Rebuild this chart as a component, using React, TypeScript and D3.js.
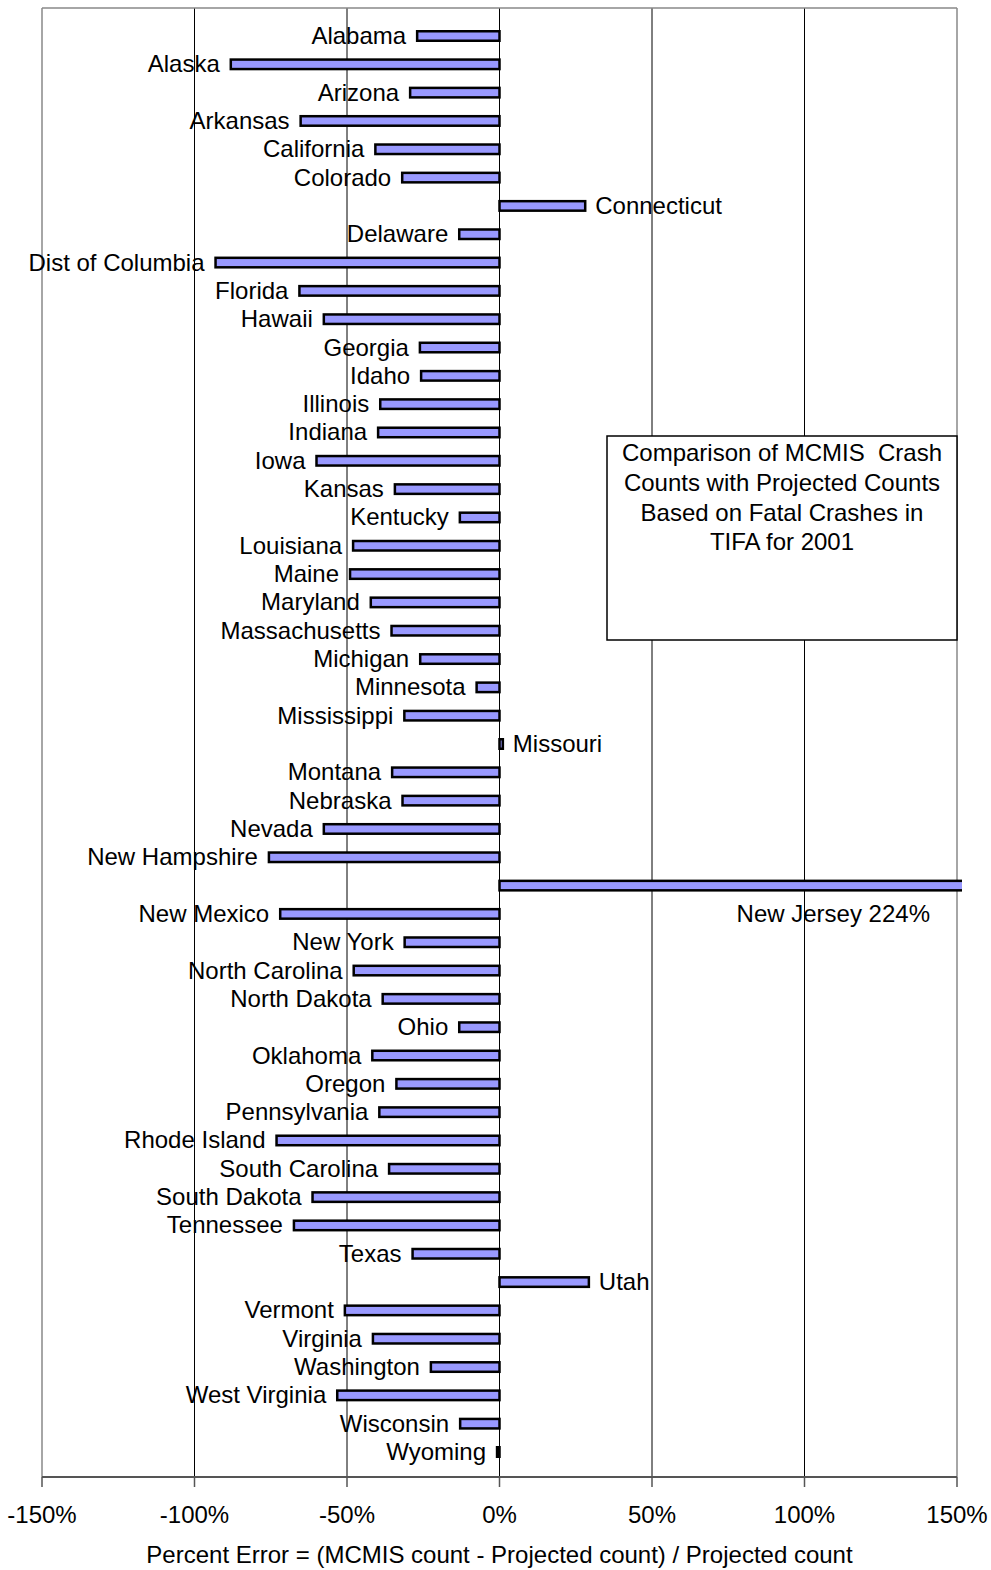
import React from "react";
import * as d3 from "d3";

const states: string[] = [
  "Alabama", "Alaska", "Arizona", "Arkansas", "California", "Colorado", "Connecticut",
  "Delaware", "Dist of Columbia", "Florida", "Hawaii", "Georgia", "Idaho", "Illinois",
  "Indiana", "Iowa", "Kansas", "Kentucky", "Louisiana", "Maine", "Maryland",
  "Massachusetts", "Michigan", "Minnesota", "Mississippi", "Missouri", "Montana",
  "Nebraska", "Nevada", "New Hampshire", "New Jersey", "New Mexico", "New York",
  "North Carolina", "North Dakota", "Ohio", "Oklahoma", "Oregon", "Pennsylvania",
  "Rhode Island", "South Carolina", "South Dakota", "Tennessee", "Texas", "Utah",
  "Vermont", "Virginia", "Washington", "West Virginia", "Wisconsin", "Wyoming",
];

const percentError: number[] = [
  -27.0, -88.1, -29.3, -65.2, -40.7, -31.9, 28.1,
  -13.2, -93.1, -65.6, -57.6, -26.1, -25.7, -39.1,
  -39.8, -60.0, -34.3, -13.0, -48.0, -49.0, -42.2,
  -35.4, -26.0, -7.5, -31.2, 1.1, -35.2,
  -31.8, -57.6, -75.6, 224, -71.9, -31.1,
  -47.8, -38.3, -13.2, -41.7, -33.8, -39.4,
  -73.1, -36.2, -61.3, -67.4, -28.5, 29.3,
  -50.7, -41.5, -22.5, -53.2, -12.9, -0.8,
];

const xTicks: number[] = [-150, -100, -50, 0, 50, 100, 150];
const gridTicks: number[] = [-100, -50, 0, 50, 100];
const titleLines: string[] = [
  "Comparison of MCMIS  Crash",
  "Counts with Projected Counts",
  "Based on Fatal Crashes in",
  "TIFA for 2001",
];
const axisTitle = "Percent Error = (MCMIS count - Projected count) / Projected count";
const outlierLabel = "New Jersey 224%";

const W = 991;
const H = 1570;
const plotLeft = 42;
const plotRight = 957;
const plotTop = 8;
const plotBottom = 1477;
const FONT = "'Liberation Sans', Arial, sans-serif";

export default function App() {
  const x = d3.scaleLinear().domain([-150, 150]).range([plotLeft, plotRight]);
  const y = d3.scalePoint<string>().domain(states).range([36, 1452]);
  const barH = 9.5;
  const step = y.step();
  const clipRight = plotRight + 5;

  return (
    <svg
      width={W}
      height={H}
      style={{ position: "absolute", left: 0, top: 0, background: "#fff" }}
      fontFamily={FONT}
    >
      <defs>
        <clipPath id="barclip">
          <rect x={0} y={0} width={clipRight} height={H} />
        </clipPath>
      </defs>
      <rect x={0} y={0} width={W} height={H} fill="#fff" />
      {gridTicks.map((t) => (
        <line
          key={"g" + t}
          x1={x(t)}
          x2={x(t)}
          y1={plotTop}
          y2={plotBottom}
          stroke="#000"
          strokeWidth={1}
        />
      ))}
      <line x1={plotLeft} x2={plotRight} y1={plotTop} y2={plotTop} stroke="#888" strokeWidth={1.5} />
      <line x1={plotLeft} x2={plotLeft} y1={plotTop} y2={plotBottom} stroke="#888" strokeWidth={1.5} />
      <line x1={plotRight} x2={plotRight} y1={plotTop} y2={plotBottom} stroke="#888" strokeWidth={1.5} />

      <g clipPath="url(#barclip)">
        {states.map((s, i) => {
          const v = percentError[i];
          const x0 = x(Math.min(0, v));
          const x1 = x(Math.max(0, v));
          return (
            <rect
              key={s}
              x={x0}
              y={(y(s) as number) - barH / 2}
              width={Math.max(x1 - x0, 0.5)}
              height={barH}
              fill="#9999FF"
              stroke="#000"
              strokeWidth={2.5}
            />
          );
        })}
      </g>

      {states.map((s, i) => {
        const v = percentError[i];
        const cy = y(s) as number;
        if (v > 150) {
          return (
            <text
              key={"l" + s}
              x={plotRight - 27}
              y={cy + step + 8}
              textAnchor="end"
              fontSize={24}
              fill="#000"
            >
              {outlierLabel}
            </text>
          );
        }
        const neg = v < 0;
        return (
          <text
            key={"l" + s}
            x={neg ? x(v) - 11 : x(v) + 10}
            y={cy + 8}
            textAnchor={neg ? "end" : "start"}
            fontSize={24}
            fill="#000"
          >
            {s}
          </text>
        );
      })}

      <line x1={plotLeft} x2={plotRight} y1={plotBottom} y2={plotBottom} stroke="#555" strokeWidth={2} />
      {xTicks.map((t) => (
        <g key={"t" + t}>
          <line x1={x(t)} x2={x(t)} y1={plotBottom} y2={plotBottom + 10} stroke="#555" strokeWidth={1.5} />
          <text x={x(t)} y={1523} textAnchor="middle" fontSize={24} fill="#000">
            {t + "%"}
          </text>
        </g>
      ))}
      <text x={(plotLeft + plotRight) / 2} y={1563} textAnchor="middle" fontSize={24} fill="#000">
        {axisTitle}
      </text>

      <rect x={607} y={436} width={350} height={204} fill="#fff" stroke="#000" strokeWidth={1.5} />
      {titleLines.map((l, i) => (
        <text
          key={"tl" + i}
          x={782}
          y={461 + i * 29.8}
          textAnchor="middle"
          fontSize={24}
          fill="#000"
          style={{ whiteSpace: "pre" }}
        >
          {l}
        </text>
      ))}
    </svg>
  );
}
